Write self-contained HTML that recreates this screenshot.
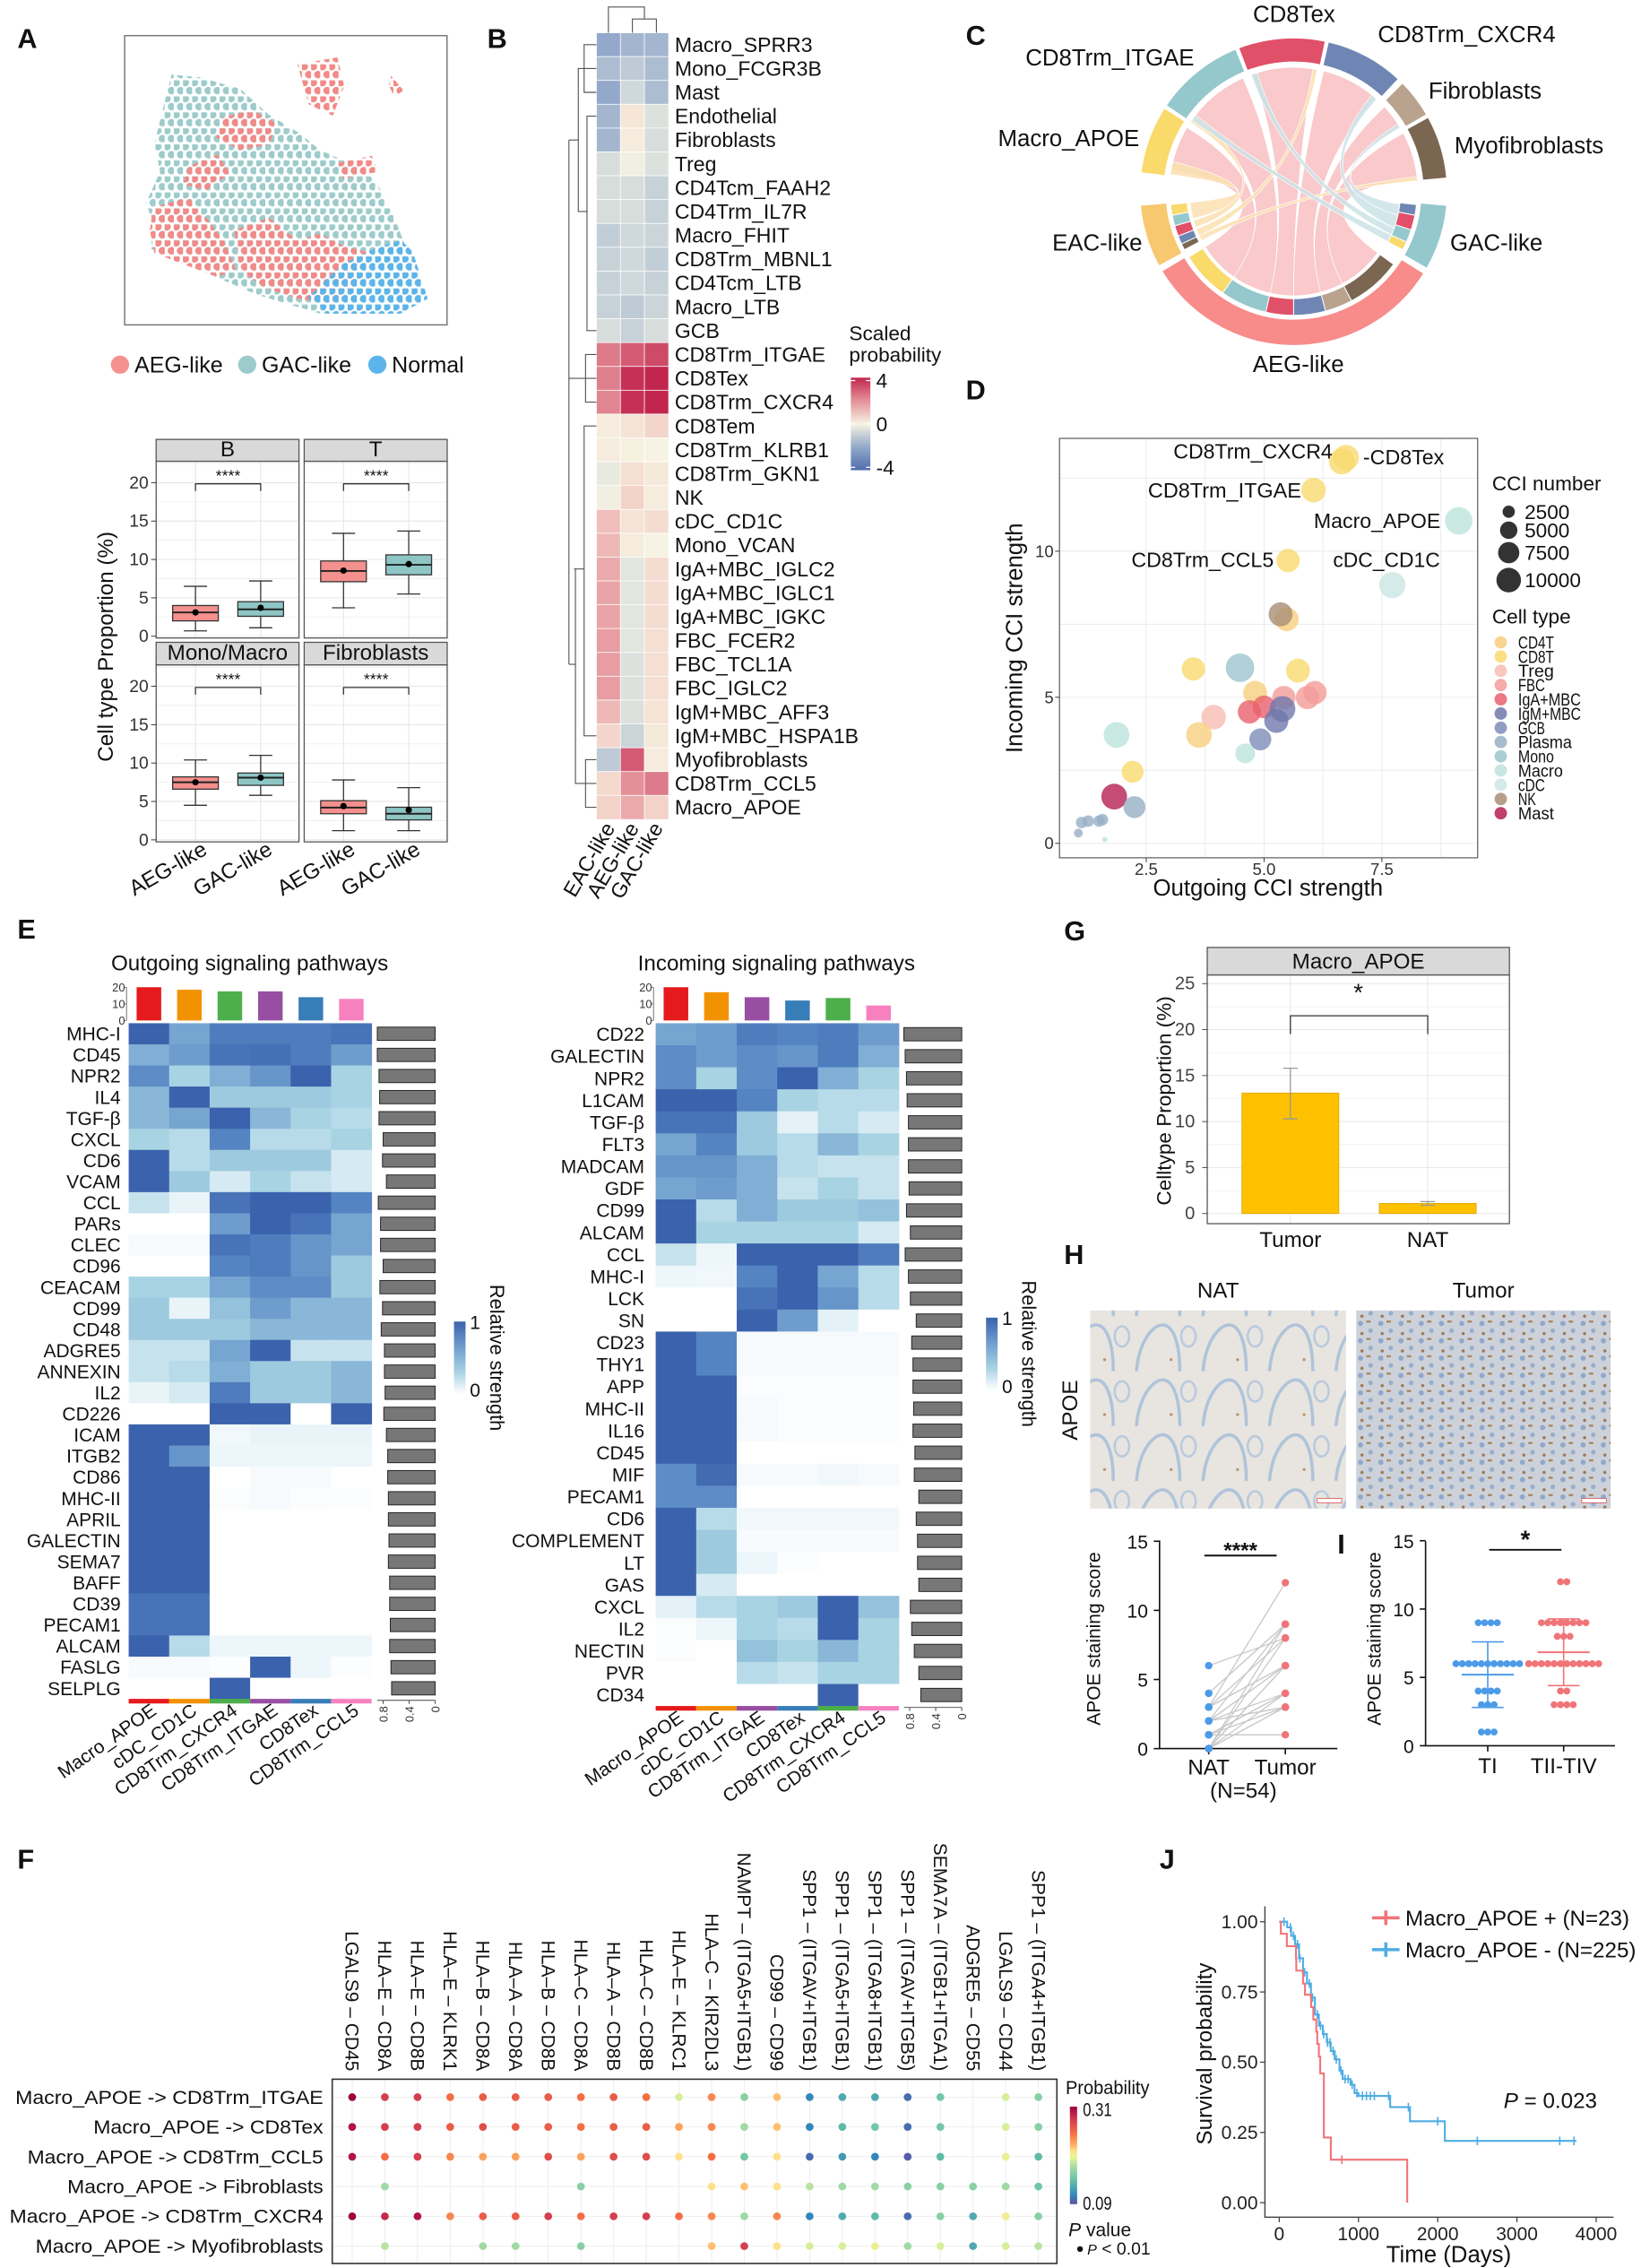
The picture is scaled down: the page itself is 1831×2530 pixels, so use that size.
<!DOCTYPE html>
<html><head><meta charset="utf-8"><title>Figure</title>
<style>
html,body{margin:0;padding:0;background:#fff;}
svg{display:block;font-family:"Liberation Sans",Arial,sans-serif;}
</style></head>
<body>
<svg id="fig" width="1831" height="2530" viewBox="0 0 1135 1568" xmlns="http://www.w3.org/2000/svg">
<defs>
<pattern id="pRed" width="16" height="28" patternUnits="userSpaceOnUse"><circle cx="4" cy="4" r="6.6" fill="#F28A87"/><circle cx="12" cy="18" r="6.6" fill="#F28A87"/></pattern>
<pattern id="pTeal" width="16" height="28" patternUnits="userSpaceOnUse"><circle cx="4" cy="4" r="6.6" fill="#9DCBCB"/><circle cx="12" cy="18" r="6.6" fill="#9DCBCB"/></pattern>
<pattern id="pBlue" width="16" height="28" patternUnits="userSpaceOnUse"><circle cx="4" cy="4" r="6.6" fill="#5CB5EA"/><circle cx="12" cy="18" r="6.6" fill="#5CB5EA"/></pattern>
<pattern id="pNat" width="46" height="38" patternUnits="userSpaceOnUse"><rect width="46" height="38" fill="#E8E5E0"/><path d="M4,36 C6,14 16,4 22,4 C30,4 34,18 34,36" fill="none" stroke="#AFC3DA" stroke-width="2.2"/><ellipse cx="40" cy="12" rx="5" ry="7" fill="none" stroke="#B9CADD" stroke-width="1.6"/><circle cx="28" cy="28" r="1" fill="#B8906A"/></pattern>
<pattern id="pTum" width="14" height="12" patternUnits="userSpaceOnUse"><rect width="14" height="12" fill="#CDD2DA"/><circle cx="3" cy="3" r="1.8" fill="#8FA8CB"/><circle cx="10" cy="8" r="1.6" fill="#98AECD"/><rect x="7" y="1" width="3" height="1.4" fill="#A7845E"/><circle cx="4" cy="10" r="1.1" fill="#9C7854"/></pattern>
</defs>
</svg>
<script>
// ---------- DATA ----------
const boxFacets=['B','T','Mono/Macro','Fibroblasts'];
const boxGroups=['AEG-like','GAC-like'];
const boxMin=[[0.7,1.1],[3.7,5.5],[4.5,5.8],[1.2,1.2]];
const boxQ1=[[2.0,2.6],[7.1,8.0],[6.6,7.1],[3.4,2.6]];
const boxMed=[[3.1,3.5],[8.5,9.3],[7.5,8.1],[4.2,3.4]];
const boxQ3=[[4.0,4.5],[9.8,10.6],[8.2,8.7],[5.1,4.25]];
const boxMax=[[6.5,7.2],[13.4,13.7],[10.4,11.0],[7.8,6.8]];
const boxMean=[[3.1,3.7],[8.55,9.4],[7.5,8.1],[4.4,3.9]];
const boxTicks=[0,5,10,15,20];

const hmRows=['Macro_SPRR3','Mono_FCGR3B','Mast','Endothelial','Fibroblasts','Treg','CD4Tcm_FAAH2','CD4Trm_IL7R','Macro_FHIT','CD8Trm_MBNL1','CD4Tcm_LTB','Macro_LTB','GCB','CD8Trm_ITGAE','CD8Tex','CD8Trm_CXCR4','CD8Tem','CD8Trm_KLRB1','CD8Trm_GKN1','NK','cDC_CD1C','Mono_VCAN','IgA+MBC_IGLC2','IgA+MBC_IGLC1','IgA+MBC_IGKC','FBC_FCER2','FBC_TCL1A','FBC_IGLC2','IgM+MBC_AFF3','IgM+MBC_HSPA1B','Myofibroblasts','CD8Trm_CCL5','Macro_APOE'];
const hmCols=['EAC-like','AEG-like','GAC-like'];
const hmVals=[[-2,-1.6,-1.6],[-1.4,-1,-1.4],[-2,-0.6,-1.4],[-1.6,0.4,-0.4],[-1.6,0.2,-0.5],[-0.5,-0.1,-0.4],[-0.5,-0.5,-0.8],[-0.5,-0.5,-0.8],[-0.9,-0.6,-0.7],[-0.8,-0.6,-0.9],[-0.8,-0.6,-0.8],[-0.8,-1,-0.7],[-0.5,-0.8,-0.5],[2.4,3,3.3],[2.3,3.8,4],[2.2,3.8,4],[0.2,0.5,0.9],[0.2,0.1,0],[-0.2,0.6,0.3],[-0.1,1,0.2],[1.3,0.5,0.7],[1.4,0.2,0],[1.6,-0.3,0.7],[1.7,-0.3,0.7],[1.7,-0.3,0.7],[1.8,-0.3,0.6],[1.8,-0.4,0.6],[1.8,-0.4,0.6],[1.4,-0.4,0.5],[0.9,-0.7,0.3],[-1,3,0.2],[0.8,2,2.4],[1,1.6,1]];

const chordSegNames=['CD8Tex','CD8Trm_CXCR4','Fibroblasts','Myofibroblasts','GAC-like','AEG-like','EAC-like','Macro_APOE','CD8Trm_ITGAE'];
const chordSegStart=[-21,13,45,61,95,122,241,277,304];
const chordSegEnd=[12,43,60,85,120,239,265,303,338];
const chordSegColor=['#E05068','#6F86B5','#B9A38E','#7A6651','#95C8CD','#F78C8A','#F8C870','#F9DA6A','#95C8CD'];
const chordSrcA=[126,152,165,180,193,215,255,250,245,242,97,103,110,114];
const chordSrcB=[152,165,180,193,215,238,264,254,249,245,103,110,114,118];
const chordTgtA=[62,47,14,-19,306,280,278,304,9,83,57,39,-20,305];
const chordTgtB=[84,58,41,9,336,301,284,307,11,85,59,42,-17,308];
const chordColor=['#F8BFC2','#F8BFC2','#F8BFC2','#F8BFC2','#F8BFC2','#F8BFC2','#FBE1B0','#FBE1B0','#FBE1B0','#FBE1B0','#CBE3E6','#CBE3E6','#CBE3E6','#CBE3E6'];

const dX=[6.74,6.65,6.05,9.13,5.51,7.72,5.48,5.35,3.5,4.49,5.72,4.81,5.42,5.92,6.08,4.69,5.0,5.39,5.26,3.93,3.62,4.92,4.6,1.87,2.21,1.82,2.25,1.13,1.27,1.5,1.57,1.06,1.62];
const dY=[13.2,13.07,12.09,11.04,9.68,8.84,7.67,7.84,5.97,6.01,5.91,5.15,4.99,4.99,5.16,4.5,4.67,4.6,4.19,4.32,3.71,3.56,3.08,3.71,2.45,1.6,1.24,0.71,0.76,0.76,0.81,0.35,0.13];
const dN=[11000,11000,10000,12500,9000,11500,9500,9500,9000,13500,9500,9500,9000,9000,9000,9000,8500,11000,9500,10000,11000,8000,6500,11000,8000,11000,8000,2200,2200,2200,2200,1300,500];
const dType=['CD8T','CD8T','CD8T','Macro','CD8T','cDC','CD4T','NK','CD8T','Mono','CD8T','CD4T','FBC','FBC','FBC','IgA+MBC','IgA+MBC','IgM+MBC','IgM+MBC','Treg','CD4T','GCB','Macro','Macro','CD8T','Mast','Plasma','Plasma','Plasma','Plasma','Plasma','Plasma','Macro'];
const cellTypes=['CD4T','CD8T','Treg','FBC','IgA+MBC','IgM+MBC','GCB','Plasma','Mono','Macro','cDC','NK','Mast'];
const cellColors=['#F7CF7E','#F9D96E','#F7BDB3','#F39C9A','#E8606E','#6F78AC','#7E8DB8','#97AFC5','#9CC6CE','#BDE3DC','#CBE6E4','#A88E76','#B51F52'];
const dLegendN=[2500,5000,7500,10000];
const dXTicks=[2.5,5.0,7.5];
const dYTicks=[0,5,10];

const outRows=['MHC-I','CD45','NPR2','IL4','TGF-β','CXCL','CD6','VCAM','CCL','PARs','CLEC','CD96','CEACAM','CD99','CD48','ADGRE5','ANNEXIN','IL2','CD226','ICAM','ITGB2','CD86','MHC-II','APRIL','GALECTIN','SEMA7','BAFF','CD39','PECAM1','ALCAM','FASLG','SELPLG'];
const outCols=['Macro_APOE','cDC_CD1C','CD8Trm_CXCR4','CD8Trm_ITGAE','CD8Tex','CD8Trm_CCL5'];
const outColColors=['#E41A1C','#F39200','#4DAF4A','#984EA3','#377EB8','#F781BF'];
const outTop=[20,18.5,17.5,17.5,14,13];
const outVals=[[1,.6,.85,.85,.85,.9],[.55,.65,.9,.92,.85,.65],[.75,.35,.55,.7,1,.35],[.5,1,.4,.4,.4,.35],[.5,.6,1,.5,.35,.3],[.35,.3,.8,.3,.3,.35],[1,.3,.4,.4,.4,.2],[1,.4,.2,.35,.25,.2],[.25,.12,.9,1,1,.8],[0,0,.65,1,.9,.6],[.05,.05,.9,.85,.7,.6],[0,0,.8,.85,.7,.4],[.35,.35,.6,.75,.75,.4],[.4,.12,.45,.65,.5,.5],[.4,.4,.4,.5,.5,.5],[.25,.25,.6,1,.25,.25],[.25,.3,.55,.4,.4,.5],[.12,.2,.85,.4,.4,.5],[0,0,1,1,0,1],[1,1,.08,.12,.12,.12],[1,.7,.1,.1,.1,.1],[1,1,0,.05,.05,0],[1,1,.03,.05,.03,.02],[1,1,0,0,0,0],[1,1,0,0,0,0],[1,1,0,0,0,0],[1,1,0,0,0,0],[.9,.9,0,0,0,0],[.9,.9,0,0,0,0],[1,.3,.1,.1,.1,.1],[.04,.04,.02,1,.1,.02],[0,0,1,0,0,0]];
const outSide=[.89,.89,.864,.854,.864,.80,.81,.75,.875,.84,.84,.80,.85,.81,.83,.78,.78,.77,.79,.75,.73,.73,.72,.72,.71,.72,.70,.70,.69,.70,.68,.67];

const inRows=['CD22','GALECTIN','NPR2','L1CAM','TGF-β','FLT3','MADCAM','GDF','CD99','ALCAM','CCL','MHC-I','LCK','SN','CD23','THY1','APP','MHC-II','IL16','CD45','MIF','PECAM1','CD6','COMPLEMENT','LT','GAS','CXCL','IL2','NECTIN','PVR','CD34'];
const inCols=['Macro_APOE','cDC_CD1C','CD8Trm_ITGAE','CD8Tex','CD8Trm_CXCR4','CD8Trm_CCL5'];
const inColColors=['#E41A1C','#F39200','#984EA3','#377EB8','#4DAF4A','#F781BF'];
const inTop=[20,17,14,12,13.5,9];
const inVals=[[.6,.65,.85,.8,.85,.65],[.75,.65,.75,.7,.85,.55],[.75,.35,.75,1,.55,.35],[1,1,.8,.35,.3,.3],[.9,.9,.4,.15,.3,.2],[.6,.8,.4,.3,.5,.35],[.7,.7,.55,.3,.25,.25],[.6,.65,.55,.25,.35,.25],[1,.3,.55,.4,.4,.45],[1,.35,.35,.35,.35,.2],[.25,.1,1,1,1,.85],[.1,.08,.8,1,.6,.3],[0,0,.9,1,.7,.3],[0,0,1,.65,.15,0],[1,.8,.05,.05,.05,.05],[1,.8,.05,.05,.05,.05],[1,1,.03,.03,.03,.03],[1,1,.05,.03,.03,.03],[1,1,.05,.03,.03,.03],[1,1,0,0,0,0],[.75,.95,.05,.05,.08,.05],[.75,.75,0,0,0,0],[1,.3,.08,.08,.08,.08],[1,.4,.04,.04,.04,.04],[1,.4,.1,.02,0,0],[1,.2,0,0,0,0],[.15,.3,.35,.4,1,.45],[.03,.1,.35,.3,1,.35],[.03,0,.45,.35,.5,.35],[0,0,.3,.25,.35,.35],[0,0,0,0,1,0]];
const inSide=[.89,.87,.85,.84,.82,.82,.82,.81,.85,.79,.87,.82,.79,.70,.77,.75,.75,.74,.75,.72,.73,.66,.70,.68,.68,.66,.79,.77,.73,.66,.63];

const fCols=['LGALS9 – CD45','HLA–E – CD8A','HLA–E – CD8B','HLA–E – KLRK1','HLA–B – CD8A','HLA–A – CD8A','HLA–B – CD8B','HLA–C – CD8A','HLA–A – CD8B','HLA–C – CD8B','HLA–E – KLRC1','HLA–C – KIR2DL3','NAMPT – (ITGA5+ITGB1)','CD99 – CD99','SPP1 – (ITGAV+ITGB1)','SPP1 – (ITGA5+ITGB1)','SPP1 – (ITGA8+ITGB1)','SPP1 – (ITGAV+ITGB5)','SEMA7A – (ITGB1+ITGA1)','ADGRE5 – CD55','LGALS9 – CD44','SPP1 – (ITGA4+ITGB1)'];
const fRows=['Macro_APOE -> CD8Trm_ITGAE','Macro_APOE -> CD8Tex','Macro_APOE -> CD8Trm_CCL5','Macro_APOE -> Fibroblasts','Macro_APOE -> CD8Trm_CXCR4','Macro_APOE -> Myofibroblasts'];
const fProb=[
[0.31,0.28,0.28,0.25,0.26,0.26,0.26,0.25,0.26,0.25,0.19,0.24,0.16,0.22,0.11,0.13,0.13,0.10,0.15,null,0.19,0.16],
[0.30,0.28,0.28,0.26,0.27,0.26,0.26,0.25,0.26,0.26,0.23,0.24,0.17,0.22,0.11,0.14,0.15,0.10,0.15,null,0.19,0.16],
[0.30,0.25,0.28,0.24,0.23,0.23,0.27,0.23,0.27,0.27,0.21,0.25,0.15,0.21,0.10,0.12,0.11,0.095,0.14,null,0.20,0.14],
[null,0.17,null,null,null,null,null,0.16,null,null,null,0.21,0.22,0.21,0.18,0.17,0.17,0.16,0.16,0.16,0.17,0.15],
[0.31,0.29,0.30,0.24,0.26,0.26,0.28,0.25,0.28,0.28,0.25,0.24,0.17,0.24,0.11,0.13,0.14,0.10,0.16,0.13,0.20,0.16],
[null,0.18,null,null,0.17,0.17,null,0.16,null,null,null,0.22,0.28,0.21,0.19,0.19,0.20,0.17,0.19,0.13,0.19,0.18]];

const gCats=['Tumor','NAT'];
const gVals=[13.1,1.1];
const gErrLo=[10.3,0.9];
const gErrHi=[15.8,1.3];
const gTicks=[0,5,10,15,20,25];

const hNat=[6,4,3,3,2,2,1,1,0,0,0,0,1,2,3,2,1,0,3,2,1,0,4,2,0];
const hTumor=[8,9,12,6,6,3,3,4,8,6,9,3,4,6,8,9,1,3,6,4,3,6,9,3,4];
const hTicks=[0,5,10,15];
const iTI=[9,9,9,9,6,6,6,6,6,6,6,6,6,6,6,4,4,4,4,3,3,3,1,1,1];
const iTII=[12,12,9,9,9,9,9,9,9,9,8,8,8,6,6,6,6,6,6,6,6,6,6,6,6,4,4,3,3,3,3];

const kmRedT=[0,20,96,211,215,300,325,402,430,467,480,500,517,563,651,1615];
const kmRedS=[1,0.957,0.913,0.87,0.826,0.78,0.74,0.696,0.652,0.609,0.565,0.52,0.46,0.232,0.153,0];
const kmRedCens=[790];
const kmBlueT=[0,100,150,200,250,300,350,400,450,500,550,600,650,700,760,800,900,950,1000,1400,1650,2090,3750];
const kmBlueS=[1,0.98,0.95,0.92,0.87,0.82,0.78,0.73,0.67,0.63,0.6,0.57,0.54,0.51,0.47,0.44,0.42,0.39,0.38,0.34,0.29,0.22,0.22];
const kmBlueCens=[60,140,180,230,260,320,380,420,480,520,560,610,640,680,720,780,830,870,920,980,1050,1100,1150,1200,1380,1630,2000,2500,3540,3720];
const kmXTicks=[0,1000,2000,3000,4000];
const kmYTicks=[0,0.25,0.5,0.75,1.0];

// ---------- HELPERS ----------
const NS='http://www.w3.org/2000/svg';
const svg=document.getElementById('fig');
function el(tag,attrs,parent){const e=document.createElementNS(NS,tag);for(const k in attrs)e.setAttribute(k,attrs[k]);(parent||svg).appendChild(e);return e;}
function tx(x,y,s,size,attrs,parent){const t=el('text',Object.assign({x:x,y:y,'font-size':size,fill:'#111'},attrs||{}),parent);t.textContent=s;return t;}
function hex(c){return [parseInt(c.substr(1,2),16),parseInt(c.substr(3,2),16),parseInt(c.substr(5,2),16)];}
function ramp(stops,v){if(v<=stops[0][0])return stops[0][1];for(let i=1;i<stops.length;i++){if(v<=stops[i][0]){const a=stops[i-1],b=stops[i];const f=(v-a[0])/(b[0]-a[0]);const ca=hex(a[1]),cb=hex(b[1]);return 'rgb('+ca.map((x,k)=>Math.round(x+(cb[k]-x)*f)).join(',')+')';}}return stops[stops.length-1][1];}
const divStops=[[-4,'#4E6DAC'],[-2,'#93A8CA'],[-0.6,'#CFD8DA'],[0,'#F6F3E2'],[1,'#F3D2C8'],[2,'#E49099'],[4,'#C2264E']];
const blueStops=[[0,'#FFFFFF'],[0.15,'#E4F1F7'],[0.35,'#A8D3E3'],[0.6,'#76A5D1'],[0.8,'#5584C2'],[1,'#3B62AD']];
const specStops=[[0.09,'#5E4FA2'],[0.11,'#3288BD'],[0.145,'#66C2A5'],[0.175,'#ABDDA4'],[0.195,'#E6F598'],[0.21,'#FEE08B'],[0.225,'#FDAE61'],[0.25,'#F46D43'],[0.28,'#D53E4F'],[0.31,'#9E0142']];
function plabel(x,y,s){const t=tx(x,y,s,19,{'font-weight':'bold'});}
function grp(parent){return el('g',{},parent);}

// ---------- PANEL A ----------
plabel(12,33,'A');
const gA=grp();


el('rect',{x:86.2,y:24.5,width:223,height:200,fill:'#fff',stroke:'#666','stroke-width':0.8},gA);
const gSp=el('g',{transform:'scale(0.3955)'},gA);
const tealPoly='300,130 350,135 420,155 470,200 520,230 560,262 600,280 640,298 665,330 690,380 705,420 745,520 700,548 560,548 450,515 380,485 310,455 265,435 265,380 255,355 280,300 270,250';
const redPolys=['268,362 330,345 362,382 392,422 412,470 380,484 322,462 270,442 262,402','388,205 442,192 482,215 472,252 420,262 378,240','410,402 470,380 520,420 560,408 602,430 642,440 622,502 582,532 522,522 462,502 420,472','330,290 380,270 402,302 362,332 320,322','520,112 590,100 602,150 582,202 540,182','684,132 706,158 690,168 680,150','588,285 650,272 662,300 600,312'];
const bluePoly='598,462 660,432 702,420 722,440 748,522 700,548 572,548 538,520';
const pt=el('polygon',{points:tealPoly,fill:'url(#pTeal)'},gSp);

redPolys.forEach(p=>{const r=el('polygon',{points:p,fill:'url(#pRed)'},gSp);
});
const pb=el('polygon',{points:bluePoly,fill:'url(#pBlue)'},gSp);

const legA=[['AEG-like','#F4908D',83],['GAC-like','#9DCBCB',171],['Normal','#5CB5EA',261]];
legA.forEach(l=>{const c=el('circle',{cx:l[2],cy:252,r:6.3,fill:l[1]});

const t=tx(l[2]+10,257.5,l[0],15.5);
});

// box plots
const facetPos=[[108,206.8,318.8,441,303.7],[210.4,309.3,318.8,441,303.7],[108,206.8,459.6,582,444],[210.4,309.3,459.6,582,444]];
const facetY0=[439.8,439.8,580.6,580.6];
const unitPx=5.31;
facetPos.forEach((f,fi)=>{
  const g=grp();
  
  const ys=v=>facetY0[fi]-v*unitPx;
  el('rect',{x:f[0],y:f[2],width:f[1]-f[0],height:f[3]-f[2],fill:'#fff'},g);
  for(let v=0;v<=22.5;v+=2.5){el('line',{x1:f[0],x2:f[1],y1:ys(v),y2:ys(v),stroke:v%5===0?'#E3E3E3':'#F0F0F0','stroke-width':0.6},g);}
  const xs=[f[0]+27.2,f[0]+72.3];
  xs.forEach(x=>el('line',{x1:x,x2:x,y1:f[2],y2:f[3],stroke:'#E3E3E3','stroke-width':0.6},g));
  el('rect',{x:f[0],y:f[2],width:f[1]-f[0],height:f[3]-f[2],fill:'none',stroke:'#555','stroke-width':0.8},g);
  const s=el('rect',{x:f[0],y:f[4],width:f[1]-f[0],height:f[2]-f[4],fill:'#D9D9D9',stroke:'#555','stroke-width':0.8},g);
  
  const st=tx((f[0]+f[1])/2,f[2]-3.5,boxFacets[fi],15,{'text-anchor':'middle'},g);
  
  boxGroups.forEach((gr,gi)=>{
    const x=xs[gi];const col=gi===0?'#F4908D':'#8EC6C5';
    el('line',{x1:x,x2:x,y1:ys(boxMin[fi][gi]),y2:ys(boxMax[fi][gi]),stroke:'#333','stroke-width':0.8},g);
    el('line',{x1:x-8,x2:x+8,y1:ys(boxMin[fi][gi]),y2:ys(boxMin[fi][gi]),stroke:'#333','stroke-width':0.8},g);
    el('line',{x1:x-8,x2:x+8,y1:ys(boxMax[fi][gi]),y2:ys(boxMax[fi][gi]),stroke:'#333','stroke-width':0.8},g);
    const b=el('rect',{x:x-15.8,y:ys(boxQ3[fi][gi]),width:31.6,height:ys(boxQ1[fi][gi])-ys(boxQ3[fi][gi]),fill:col,stroke:'#333','stroke-width':0.8},g);
    
    el('line',{x1:x-15.8,x2:x+15.8,y1:ys(boxMed[fi][gi]),y2:ys(boxMed[fi][gi]),stroke:'#222','stroke-width':1.2},g);
    const m=el('circle',{cx:x,cy:ys(boxMean[fi][gi]),r:2.2,fill:'#000'},g);
    
  });
  const by=ys(19.85);
  el('path',{d:`M${xs[0]},${by+5}V${by}H${xs[1]}V${by+5}`,fill:'none',stroke:'#333','stroke-width':0.8},g);
  tx((xs[0]+xs[1])/2,by-2,'****',11,{'text-anchor':'middle'},g);
  if(fi%2===0){boxTicks.forEach(v=>{tx(102.8,ys(v)+4,String(v),12,{'text-anchor':'end',fill:'#333'},g);el('line',{x1:104.5,x2:108,y1:ys(v),y2:ys(v),stroke:'#333','stroke-width':0.6},g);});}
  if(fi>=2){boxGroups.forEach((gr,gi)=>{const t=tx(0,0,gr,15,{'text-anchor':'end',transform:`translate(${xs[gi]+9},${f[3]+8}) rotate(-30)`},g);});}
});
const ylA=tx(0,0,'Cell type Proportion (%)',15,{'text-anchor':'middle',transform:'translate(78,447) rotate(-90)'});


// ---------- PANEL B ----------
plabel(337,33,'B');
const gB=grp();

const bx0=412.5,by0=22.5,bcw=16.6,brh=16.48;
hmVals.forEach((row,ri)=>{row.forEach((v,ci)=>{const r=el('rect',{x:bx0+ci*bcw,y:by0+ri*brh,width:bcw+0.2,height:brh+0.2,fill:ramp(divStops,v),stroke:'#fff','stroke-width':0.5},gB);
});
const t=tx(466.7,by0+ri*brh+brh/2+5,hmRows[ri],14.3,{},gB);
});
hmCols.forEach((c,ci)=>{const t=tx(0,0,c,14.5,{'text-anchor':'end',transform:`translate(${bx0+ci*bcw+bcw/2+5},${by0+33*brh+6}) rotate(-60)`},gB);
});
const cx1=bx0+bcw/2,cx2=bx0+1.5*bcw,cx3=bx0+2.5*bcw;
el('path',{d:`M${cx2},${by0}V13H${cx3}V${by0}M${(cx2+cx3)/2},13V4.7H${cx1}V${by0}`,fill:'none',stroke:'#555','stroke-width':0.7},gB);
const dy=i=>by0+i*brh+brh/2;
el('path',{d:`M412.5,${dy(0)}H404V${dy(2)}H412.5M412.5,${dy(1)}H404M412.5,${dy(3)}H406V${dy(12)}H412.5M406,${dy(7)}H404M404,${dy(1)}H400V${dy(7)}H404M400,${dy(4)}H393.5M412.5,${dy(13)}H405V${dy(15)}H412.5M412.5,${dy(14)}H405M405,${dy(14)}H393.5M412.5,${dy(16)}H404V${dy(29)}H412.5M404,${dy(22)}H397M412.5,${dy(30)}H405V${dy(32)}H412.5M412.5,${dy(31)}H405M405,${dy(31)}H398V${dy(22)}M398,${dy(26)}H393.5M393.5,${dy(4)}V${dy(26)}`,fill:'none',stroke:'#555','stroke-width':0.7},gB);
const gBL=grp();

tx(587.3,235,'Scaled',14,{},gBL);
tx(587.3,250,'probability',14,{},gBL);
const lgB=el('linearGradient',{id:'gB',x1:0,y1:0,x2:0,y2:1},svg.querySelector('defs'));
[[0,'#C2264E'],[0.25,'#E49099'],[0.5,'#F6F3E2'],[0.75,'#93A8CA'],[1,'#4E6DAC']].forEach(s=>el('stop',{offset:s[0],'stop-color':s[1]},lgB));
el('rect',{x:588.5,y:261,width:13.5,height:64,fill:'url(#gB)'},gBL);
[263,293,323].forEach((y,i)=>{el('line',{x1:588.5,x2:591.5,y1:y,y2:y,stroke:'#fff','stroke-width':0.8},gBL);el('line',{x1:599,x2:602,y1:y,y2:y,stroke:'#fff','stroke-width':0.8},gBL);tx(606,y+5,['4','0','-4'][i],14,{},gBL);});

// ---------- PANEL C ----------
plabel(668,31,'C');
const gC=grp();

const CC={x:894.7,y:132.4};
function P(a,r){const t=a*Math.PI/180;return (CC.x+r*Math.sin(t)).toFixed(2)+','+(CC.y-r*Math.cos(t)).toFixed(2);}
function band(a0,a1,r0,r1){const lg=(a1-a0)>180?1:0;return `M${P(a0,r1)}A${r1},${r1} 0 ${lg} 1 ${P(a1,r1)}L${P(a1,r0)}A${r0},${r0} 0 ${lg} 0 ${P(a0,r0)}Z`;}
function chordRad(a){return (a>120&&a<270)?72:86;}
chordSrcA.forEach((s0,i)=>{const s1=chordSrcB[i],t0=chordTgtA[i],t1=chordTgtB[i];const rs=chordRad(s0),rt=chordRad(((t0%360)+360)%360);
const c=el('path',{d:`M${P(s0,rs)}A${rs},${rs} 0 0 1 ${P(s1,rs)}Q${CC.x},${CC.y} ${P(t0,rt)}A${rt},${rt} 0 0 1 ${P(t1,rt)}Q${CC.x},${CC.y} ${P(s0,rs)}Z`,fill:chordColor[i],'fill-opacity':0.85,stroke:'#fff','stroke-width':0.4},gC);
});
const bigSeg=['GAC-like','AEG-like','EAC-like'];
chordSegNames.forEach((n,i)=>{const inner=bigSeg.includes(n)?88:89.5;
const s=el('path',{d:band(chordSegStart[i],chordSegEnd[i],inner,106.5),fill:chordSegColor[i],stroke:'#fff','stroke-width':1},gC);
});
const innerSegs=[[126,152,'#7A6651'],[152,165,'#B9A38E'],[165,180,'#6F86B5'],[180,193,'#E05068'],[193,215,'#95C8CD'],[215,238,'#F9DA6A'],[242,245,'#7A6651'],[245,249,'#6F86B5'],[249,254,'#E05068'],[254,259,'#95C8CD'],[259,264,'#F9DA6A'],[96,101,'#6F86B5'],[101,108,'#E05068'],[108,114,'#95C8CD'],[114,118,'#F9DA6A']];
innerSegs.forEach(s=>{const p=el('path',{d:band(s[0],s[1],74,85.5),fill:s[2],stroke:'#fff','stroke-width':0.6},gC);
});
const cLabels=[['CD8Tex',895,15,'middle'],['CD8Trm_CXCR4',953,29,'start'],['CD8Trm_ITGAE',826,45,'end'],['Fibroblasts',988,68,'start'],['Macro_APOE',788,101,'end'],['Myofibroblasts',1006,106,'start'],['EAC-like',790,173,'end'],['GAC-like',1003,173,'start'],['AEG-like',898,257,'middle']];
cLabels.forEach(l=>{const t=tx(l[1],l[2],l[0],16,{'text-anchor':l[3]},gC);
});

// ---------- PANEL D ----------
plabel(668,276,'D');
const gD=grp();

const dxs=v=>711.3+v*32.6, dys=v=>583-v*20.2;
const DL=732.8,DR=1022,DT=303,DB=593;
for(let v=2.5;v<=9;v+=1.25){const x=dxs(v);if(x>DL&&x<DR)el('line',{x1:x,x2:x,y1:DT,y2:DB,stroke:'#EBEBEB','stroke-width':0.6},gD);}
for(let v=0;v<=14;v+=2.5){const y=dys(v);if(y>DT&&y<DB)el('line',{x1:DL,x2:DR,y1:y,y2:y,stroke:'#EBEBEB','stroke-width':0.6},gD);}
el('rect',{x:DL,y:DT,width:DR-DL,height:DB-DT,fill:'none',stroke:'#666','stroke-width':0.8},gD);
dXTicks.forEach(v=>{el('line',{x1:dxs(v),x2:dxs(v),y1:DB,y2:DB+3,stroke:'#333','stroke-width':0.6},gD);tx(dxs(v),DB+12,v.toFixed(1),11.5,{'text-anchor':'middle',fill:'#333'},gD);});
dYTicks.forEach(v=>{el('line',{x1:DL-3,x2:DL,y1:dys(v),y2:dys(v),stroke:'#333','stroke-width':0.6},gD);tx(DL-4,dys(v)+4,String(v),11.5,{'text-anchor':'end',fill:'#333'},gD);});
const rOf=n=>0.085*Math.sqrt(n);
dX.forEach((x,i)=>{const c=el('circle',{cx:dxs(x),cy:dys(dY[i]),r:rOf(dN[i]),fill:cellColors[cellTypes.indexOf(dType[i])],'fill-opacity':0.8},gD);
});
const dLab=[['CD8Trm_CXCR4',811.6,317,110],['-CD8Tex',942.8,321,56],['CD8Trm_ITGAE',794,344,106],['Macro_APOE',908.7,365,87.6],['CD8Trm_CCL5',782.5,392,98.5],['cDC_CD1C',922,392,74]];
dLab.forEach(l=>{const t=tx(l[1],l[2],l[0],14.5,{textLength:l[3],lengthAdjust:'spacingAndGlyphs'},gD);
});
const dxt=tx(877,619,'Outgoing CCI strength',16,{'text-anchor':'middle'},gD);

const dyt=tx(0,0,'Incoming CCI strength',16,{'text-anchor':'middle',transform:'translate(707,441) rotate(-90)'},gD);

const gDL=grp(gD);

tx(1032,339,'CCI number',14,{},gDL);
[353.7,366.5,382,401].forEach((y,i)=>{el('circle',{cx:1043.5,cy:y,r:rOf(dLegendN[i]),fill:'#333'},gDL);tx(1054.5,y+5,String(dLegendN[i]),14,{},gDL);});
tx(1032,431,'Cell type',14,{},gDL);
cellTypes.forEach((c,i)=>{const y=444+i*9.85;el('circle',{cx:1038,cy:y,r:4.3,fill:cellColors[i],'fill-opacity':0.85},gDL);tx(1050,y+4.3,c,12,{textLength:c.length*6.2,lengthAdjust:'spacingAndGlyphs'},gDL);});

// ---------- PANEL E ----------
plabel(12,649,'E');
function drawSig(name,title,titleX,rows,cols,colColors,top,vals,side,x0,y0,cw,rh,labelX,sideRight,legX,legY){
  const g=grp();
  
  const tt=tx(titleX,671,title,15,{'text-anchor':'middle'},g);
  
  const ty=v=>705.5-v*1.15;
  el('line',{x1:x0-1.5,x2:x0-1.5,y1:ty(20),y2:ty(0),stroke:'#555','stroke-width':0.5},g);
  [0,10,20].forEach(v=>{tx(x0-2.5,ty(v)+3,String(v),8,{'text-anchor':'end',fill:'#333'},g);el('line',{x1:x0-3.5,x2:x0-1.5,y1:ty(v),y2:ty(v),stroke:'#555','stroke-width':0.5},g);});
  top.forEach((v,i)=>{const b=el('rect',{x:x0+i*cw+5.5,y:ty(v),width:cw-11,height:ty(0)-ty(v),fill:colColors[i]},g);
  });
  vals.forEach((row,ri)=>{row.forEach((v,ci)=>{const r=el('rect',{x:x0+ci*cw,y:y0+ri*rh,width:cw+0.3,height:rh+0.3,fill:ramp(blueStops,v)},g);
  });
  const t=tx(labelX,y0+ri*rh+rh/2+4.6,rows[ri],13,{'text-anchor':'end'},g);
  
  const sw=side[ri]*45;
  const sb=el('rect',{x:sideRight-sw,y:y0+ri*rh+rh/2-4.6,width:sw,height:9.2,fill:'#777',stroke:'#222','stroke-width':0.6},g);
  });
  const yb=y0+rows.length*rh;
  cols.forEach((c,ci)=>{el('rect',{x:x0+ci*cw,y:yb,width:cw,height:3.2,fill:colColors[ci]},g);
  const t=tx(0,0,c,13,{'text-anchor':'end',transform:`translate(${x0+ci*cw+cw/2+6},${yb+10}) rotate(-35)`},g);
  });
  el('line',{x1:sideRight-40,x2:sideRight,y1:yb+1,y2:yb+1,stroke:'#444','stroke-width':0.6},g);
  [0.8,0.4,0].forEach(v=>{const x=sideRight-v*45;el('line',{x1:x,x2:x,y1:yb+1,y2:yb+3.5,stroke:'#444','stroke-width':0.6},g);tx(0,0,String(v),8,{'text-anchor':'end',fill:'#333',transform:`translate(${x+3},${yb+5}) rotate(-90)`},g);});
  const lg=el('rect',{x:legX,y:legY,width:8,height:50,fill:'url(#gE)'},g);
  
  tx(legX+11,legY+5,'1',13,{},g);
  tx(legX+11,legY+52,'0',13,{},g);
  tx(0,0,'Relative strength',13.5,{'text-anchor':'middle',transform:`translate(${legX+25},${legY+25}) rotate(90)`},g);
}
const lgE=el('linearGradient',{id:'gE',x1:0,y1:0,x2:0,y2:1},svg.querySelector('defs'));
[[0,'#3B62AD'],[0.4,'#76A5D1'],[0.7,'#A8D3E3'],[1,'#FFFFFF']].forEach(s=>el('stop',{offset:s[0],'stop-color':s[1]},lgE));
drawSig('outgoing-signaling-heatmap','Outgoing signaling pathways',172.7,outRows,outCols,outColColors,outTop,outVals,outSide,89,707.4,28,14.6,83.5,301,314,913.7);
drawSig('incoming-signaling-heatmap','Incoming signaling pathways',537,inRows,inCols,inColColors,inTop,inVals,inSide,453.5,707.4,28.03,15.23,445.7,665.2,682,911);

// ---------- PANEL F ----------
plabel(12,1292,'F');
const gF=grp();

const fx=i=>243.6+i*22.6, fy=j=>1450+j*20.6;
const FL=229.8,FR=731,FT=1437.6,FB=1565;
fCols.forEach((c,i)=>el('line',{x1:fx(i),x2:fx(i),y1:FT,y2:FB,stroke:'#EDEDED','stroke-width':0.6},gF));
fRows.forEach((r,j)=>el('line',{x1:FL,x2:FR,y1:fy(j),y2:fy(j),stroke:'#EDEDED','stroke-width':0.6},gF));
el('rect',{x:FL,y:FT,width:FR-FL,height:FB-FT,fill:'none',stroke:'#333','stroke-width':1},gF);
const fRowW=[213,159,204.6,177,217,199];
fRows.forEach((r,j)=>{const t=tx(223.6,fy(j)+4.6,r,13,{'text-anchor':'end',textLength:fRowW[j],lengthAdjust:'spacingAndGlyphs'},gF);
});
fCols.forEach((c,i)=>{const t=tx(0,4.5,c,13,{'text-anchor':'end',transform:`translate(${fx(i)},1432) rotate(90)`},gF);
});
fProb.forEach((row,j)=>row.forEach((v,i)=>{if(v===null)return;const c=el('circle',{cx:fx(i),cy:fy(j),r:2.7,fill:ramp(specStops,v)},gF);
}));
const lgF=el('linearGradient',{id:'gF',x1:0,y1:1,x2:0,y2:0},svg.querySelector('defs'));
specStops.forEach(s=>el('stop',{offset:(s[0]-0.09)/0.22,'stop-color':s[1]},lgF));
const gFL=grp(gF);

tx(737,1448,'Probability',13,{textLength:58,lengthAdjust:'spacingAndGlyphs'},gFL);
el('rect',{x:740,y:1456.6,width:5,height:67.4,fill:'url(#gF)'},gFL);
tx(749,1463,'0.31',13,{textLength:20,lengthAdjust:'spacingAndGlyphs'},gFL);
tx(749,1528,'0.09',13,{textLength:20,lengthAdjust:'spacingAndGlyphs'},gFL);
const pv=tx(739,1546,'',13,{},gFL);
pv.innerHTML='<tspan font-style="italic">P</tspan> value';
el('circle',{cx:747,cy:1555,r:2,fill:'#111'},gFL);
const pl=tx(752,1559,'',12,{},gFL);
pl.innerHTML='<tspan font-style="italic" font-size="10">P</tspan> &lt; 0.01';

// ---------- PANEL G ----------
plabel(736,650,'G');
const gG=grp();

const gys=v=>839-v*6.36;
const GL=835,GR=1044,GT=674,GB=846;
for(let v=0;v<=27.5;v+=2.5){const y=gys(v);if(y>GT)el('line',{x1:GL,x2:GR,y1:y,y2:y,stroke:v%5===0?'#E6E6E6':'#F2F2F2','stroke-width':0.6},gG);}
const gxs=[892.5,987.5];
gxs.forEach(x=>el('line',{x1:x,x2:x,y1:GT,y2:GB,stroke:'#E6E6E6','stroke-width':0.6},gG));
el('rect',{x:GL,y:GT,width:GR-GL,height:GB-GT,fill:'none',stroke:'#555','stroke-width':0.8},gG);
const gs=el('rect',{x:GL,y:655,width:GR-GL,height:19,fill:'#D9D9D9',stroke:'#555','stroke-width':0.8},gG);

tx(939.5,669.5,'Macro_APOE',15,{'text-anchor':'middle'},gG);
gCats.forEach((c,i)=>{const b=el('rect',{x:gxs[i]-33.5,y:gys(gVals[i]),width:67,height:gys(0)-gys(gVals[i]),fill:'#FFC000',stroke:'#D9A400','stroke-width':0.5},gG);

el('path',{d:`M${gxs[i]-5},${gys(gErrHi[i])}H${gxs[i]+5}M${gxs[i]},${gys(gErrHi[i])}V${gys(gErrLo[i])}M${gxs[i]-5},${gys(gErrLo[i])}H${gxs[i]+5}`,stroke:'#999','stroke-width':0.8,fill:'none'},gG);
const t=tx(gxs[i],862,c,15,{'text-anchor':'middle'},gG);
});
gTicks.forEach(v=>{tx(826.5,gys(v)+4,String(v),12.5,{'text-anchor':'end',fill:'#444'},gG);el('line',{x1:831.5,x2:835,y1:gys(v),y2:gys(v),stroke:'#444','stroke-width':0.6},gG);});
el('path',{d:`M892.5,${gys(19.5)}V${gys(21.5)}H987.5V${gys(19.5)}`,fill:'none',stroke:'#333','stroke-width':0.8},gG);
tx(939.5,692,'*',17,{'text-anchor':'middle'},gG);
const gyt=tx(0,0,'Celltype Proportion (%)',14,{'text-anchor':'middle',transform:'translate(810,761) rotate(-90)'},gG);


// ---------- PANEL H ----------
plabel(736,874,'H');
const gH=grp();

tx(842.5,897,'NAT',15,{'text-anchor':'middle'},gH);
tx(1026,897,'Tumor',15,{'text-anchor':'middle'},gH);
const im1=el('rect',{x:754,y:906,width:177,height:137,fill:'url(#pNat)'},gH);

const im2=el('rect',{x:938,y:906,width:176,height:137,fill:'url(#pTum)'},gH);

el('rect',{x:911,y:1036,width:17,height:3,fill:'#fff',stroke:'#d55','stroke-width':0.5},gH);
el('rect',{x:1094,y:1036,width:17,height:3,fill:'#fff',stroke:'#d55','stroke-width':0.5},gH);
tx(0,0,'APOE',15,{'text-anchor':'middle',transform:'translate(745,975) rotate(-90)'},gH);

const gHP=grp();

const hys=v=>1209-v*9.56;
el('path',{d:'M802,1065V1209H925',fill:'none',stroke:'#111','stroke-width':1},gHP);
hTicks.forEach(v=>{el('line',{x1:798,x2:802,y1:hys(v),y2:hys(v),stroke:'#111','stroke-width':1},gHP);tx(794,hys(v)+5,String(v),13,{'text-anchor':'end'},gHP);});
[836,889].forEach(x=>el('line',{x1:x,x2:x,y1:1209,y2:1213,stroke:'#111','stroke-width':1},gHP));
hNat.forEach((v,i)=>{const l=el('line',{x1:836,y1:hys(v),x2:889,y2:hys(hTumor[i]),stroke:'#C9C9C9','stroke-width':0.8},gHP);
});
hNat.forEach((v,i)=>{const c=el('circle',{cx:836,cy:hys(v),r:2.6,fill:'#4C9BE8'},gHP);

const d=el('circle',{cx:889,cy:hys(hTumor[i]),r:2.6,fill:'#F07478'},gHP);
});
el('line',{x1:833,x2:883,y1:1075.5,y2:1075.5,stroke:'#111','stroke-width':1.2},gHP);
tx(858,1077,'****',15,{'text-anchor':'middle','font-weight':'bold'},gHP);
tx(836,1227,'NAT',15,{'text-anchor':'middle'},gHP);
tx(889,1227,'Tumor',15,{'text-anchor':'middle'},gHP);
tx(860,1243,'(N=54)',15,{'text-anchor':'middle'},gHP);
tx(0,0,'APOE staining score',13,{'text-anchor':'middle',transform:'translate(761,1133) rotate(-90)'},gHP);

// ---------- PANEL I ----------
plabel(925,1074,'I');
const gI=grp();

const iys=v=>1207-v*9.45;
el('path',{d:'M986,1065.6V1207H1117',fill:'none',stroke:'#111','stroke-width':1},gI);
hTicks.forEach(v=>{el('line',{x1:982,x2:986,y1:iys(v),y2:iys(v),stroke:'#111','stroke-width':1},gI);tx(978,iys(v)+5,String(v),13,{'text-anchor':'end'},gI);});
const iGroups=[[iTI,1029,'#4C9BE8','TI'],[iTII,1081.5,'#F07478','TII-TIV']];
iGroups.forEach(gp=>{const vals=gp[0],x0=gp[1];
 el('line',{x1:x0,x2:x0,y1:1207,y2:1211,stroke:'#111','stroke-width':1},gI);
 const cnt={};vals.forEach(v=>cnt[v]=(cnt[v]||0)+1);const seen={};
 vals.forEach(v=>{seen[v]=(seen[v]||0)+1;const k=seen[v]-1,n=cnt[v];const x=x0+(k-(n-1)/2)*4.4;
 const c=el('circle',{cx:x,cy:iys(v),r:2.4,fill:gp[2]},gI);
 });
 const mean=vals.reduce((a,b)=>a+b,0)/vals.length;const sd=Math.sqrt(vals.reduce((a,b)=>a+(b-mean)*(b-mean),0)/(vals.length-1));
 const m=el('line',{x1:x0-18,x2:x0+18,y1:iys(mean),y2:iys(mean),stroke:gp[2],'stroke-width':1.2},gI);
 
 el('path',{d:`M${x0-11},${iys(mean+sd)}H${x0+11}M${x0},${iys(mean+sd)}V${iys(mean-sd)}M${x0-11},${iys(mean-sd)}H${x0+11}`,stroke:gp[2],'stroke-width':1,fill:'none'},gI);
 tx(x0,1226,gp[3],15,{'text-anchor':'middle'},gI);});
el('line',{x1:1030,x2:1080,y1:1071.5,y2:1071.5,stroke:'#111','stroke-width':1.2},gI);
tx(1055,1070,'*',17,{'text-anchor':'middle','font-weight':'bold'},gI);
tx(0,0,'APOE staining score',13,{'text-anchor':'middle',transform:'translate(955,1133) rotate(-90)'},gI);

// ---------- PANEL J ----------
plabel(802,1292,'J');
const gJ=grp();

const kx=d=>884.8+d*0.0548, ky=s=>1523-s*194.3;
el('path',{d:'M874.9,1318V1533H1116',fill:'none',stroke:'#444','stroke-width':0.9},gJ);
kmYTicks.forEach(v=>{el('line',{x1:871.5,x2:874.9,y1:ky(v),y2:ky(v),stroke:'#444','stroke-width':0.8},gJ);tx(870,ky(v)+4.5,v.toFixed(2),13,{'text-anchor':'end',fill:'#222'},gJ);});
kmXTicks.forEach(v=>{el('line',{x1:kx(v),x2:kx(v),y1:1533,y2:1536.5,stroke:'#444','stroke-width':0.8},gJ);tx(kx(v),1549,String(v),13,{'text-anchor':'middle',fill:'#222'},gJ);});
function stepPath(T,S){let d=`M${kx(T[0])},${ky(S[0])}`;for(let i=1;i<T.length;i++){d+=`H${kx(T[i])}V${ky(S[i])}`;}return d;}
function survAt(T,S,t){let s=S[0];for(let i=0;i<T.length;i++){if(T[i]<=t)s=S[i];}return s;}
const kb=el('path',{d:stepPath(kmBlueT,kmBlueS),fill:'none',stroke:'#4FADE3','stroke-width':1.3},gJ);

kmBlueCens.forEach(t=>{const y=ky(survAt(kmBlueT,kmBlueS,t)),x=kx(t);el('line',{x1:x,x2:x,y1:y-3,y2:y+3,stroke:'#4FADE3','stroke-width':1},gJ);});
const kr=el('path',{d:stepPath(kmRedT,kmRedS),fill:'none',stroke:'#F07478','stroke-width':1.3},gJ);

kmRedCens.forEach(t=>{const y=ky(survAt(kmRedT,kmRedS,t)),x=kx(t);el('line',{x1:x,x2:x,y1:y-3,y2:y+3,stroke:'#F07478','stroke-width':1},gJ);});
const gJL=grp(gJ);

el('path',{d:'M949,1326H968M958.5,1321V1331',stroke:'#F07478','stroke-width':2.2},gJL);
tx(972,1331.5,'Macro_APOE + (N=23)',15,{},gJL);
el('path',{d:'M949,1348H968M958.5,1343V1353',stroke:'#4FADE3','stroke-width':2.2},gJL);
tx(972,1353.5,'Macro_APOE - (N=225)',15,{},gJL);
const pj=tx(1040,1457.5,'',15,{},gJ);
pj.innerHTML='<tspan font-style="italic">P</tspan> = 0.023';
tx(1002,1564,'Time (Days)',16,{'text-anchor':'middle'},gJ);
tx(0,0,'Survival probability',15,{'text-anchor':'middle',transform:'translate(838,1420) rotate(-90)'},gJ);
</script>
</body></html>
